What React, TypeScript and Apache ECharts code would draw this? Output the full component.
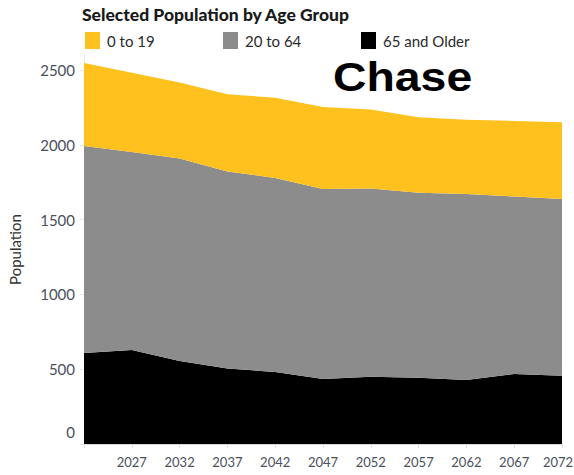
import React, { useEffect, useRef } from "react";
import * as echarts from "echarts";

const years = ["2022", "2027", "2032", "2037", "2042", "2047", "2052", "2057", "2062", "2067", "2072"];
const olderValues = [608, 628, 555, 505, 481, 434, 450, 443, 428, 468, 457];
const adultValues = [1384, 1323, 1353, 1317, 1297, 1271, 1257, 1236, 1243, 1186, 1181];
const youthValues = [555, 531, 508, 516, 536, 548, 528, 505, 497, 505, 512];
const seriesNames = ["0 to 19", "20 to 64", "65 and Older"];
const seriesColors = ["#FFC11E", "#8C8C8C", "#000000"];

export default function App() {
  const ref = useRef<HTMLDivElement>(null);
  useEffect(() => {
    if (!ref.current) return;
    const chart = echarts.init(ref.current, undefined, { renderer: "svg" });
    const labelColor = "#4a4f5c";
    const legendLefts = [85, 223, 361];
    const lastIndex = years.length - 1;
    chart.setOption({
      animation: false,
      backgroundColor: "#ffffff",
      title: {
        text: "Selected Population by Age Group",
        left: 82,
        top: 5,
        padding: 0,
        textStyle: { fontFamily: "Lato", fontWeight: 900, fontSize: 17.5, color: "#1a1a1a" },
      },
      legend: seriesNames.map((n, i) => ({
        data: [n],
        left: legendLefts[i],
        top: 32,
        padding: 0,
        icon: "rect",
        itemWidth: 15,
        itemHeight: 17,
        itemGap: 6,
        selectedMode: false,
        textStyle: { fontFamily: "Lato", fontSize: 15, color: "#2b2b2b", padding: [0, 0, 0, 2] },
      })),
      grid: { left: 84, right: 12, top: 55, bottom: 31, outerBoundsMode: "none", containLabel: false },
      xAxis: {
        type: "category",
        data: years,
        boundaryGap: false,
        axisLine: { show: true, lineStyle: { color: "#d9d9d9" } },
        axisTick: { show: true, length: 4, lineStyle: { color: "#e0e0e0" } },
        axisLabel: {
          interval: 0,
          margin: 11,
          fontFamily: "Lato",
          fontSize: 13,
          color: labelColor,
          formatter: (v: string, i: number) => (i === 0 ? "" : i === lastIndex ? "{r|" + v + "}" : v),
          rich: { r: { fontFamily: "Lato", fontSize: 13, color: labelColor, padding: [0, 8, 0, 0] } },
        },
        splitLine: { show: false },
      },
      yAxis: {
        type: "value",
        min: 0,
        max: 2600,
        interval: 500,
        name: "Population",
        nameLocation: "middle",
        nameGap: 62,
        nameTextStyle: { fontFamily: "Lato", fontSize: 15, color: "#333" },
        axisLine: { show: true, lineStyle: { color: "#e6e6e6" } },
        axisTick: { show: true, length: 4, lineStyle: { color: "#e6e6e6" } },
        splitLine: { show: false },
        axisLabel: {
          showMaxLabel: false,
          margin: 9,
          fontFamily: "Lato",
          fontSize: 15,
          color: labelColor,
          formatter: (v: number) => (v === 0 ? "{z|0}" : String(v)),
          rich: { z: { fontFamily: "Lato", fontSize: 15, color: labelColor, padding: [0, 0, 24, 0] } },
        },
      },
      series: [
        {
          name: seriesNames[2],
          type: "line",
          stack: "pop",
          data: olderValues,
          symbol: "none",
          lineStyle: { width: 0 },
          areaStyle: { color: seriesColors[2], opacity: 1 },
          itemStyle: { color: seriesColors[2] },
        },
        {
          name: seriesNames[1],
          type: "line",
          stack: "pop",
          data: adultValues,
          symbol: "none",
          lineStyle: { width: 0 },
          areaStyle: { color: seriesColors[1], opacity: 1 },
          itemStyle: { color: seriesColors[1] },
        },
        {
          name: seriesNames[0],
          type: "line",
          stack: "pop",
          data: youthValues,
          symbol: "none",
          lineStyle: { width: 0 },
          areaStyle: { color: seriesColors[0], opacity: 1 },
          itemStyle: { color: seriesColors[0] },
        },
      ],
      graphic: [
        {
          type: "text",
          x: 333,
          y: 57,
          scaleX: 1.16,
          style: {
            text: "Chase",
            fontFamily: "Liberation Sans",
            fontWeight: "bold",
            fontSize: 40,
            fill: "#000",
            textVerticalAlign: "top",
          },
        },
      ],
    });
    return () => chart.dispose();
  }, []);
  return (
    <div
      ref={ref}
      style={{ position: "fixed", left: 0, top: 0, width: 574, height: 475 }}
    />
  );
}
